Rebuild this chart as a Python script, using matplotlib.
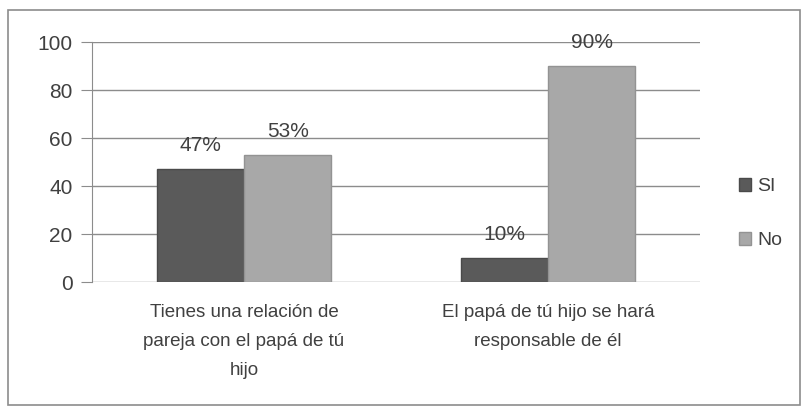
import numpy as np
import matplotlib.pyplot as plt
from matplotlib.patches import Rectangle

categories = ["Tienes una relación de\npareja con el papá de tú\nhijo",
              "El papá de tú hijo se hará\nresponsable de él"]
si_values = [47, 10]
no_values = [53, 90]
si_labels = ["47%", "10%"]
no_labels = ["53%", "90%"]
yticks = [0, 20, 40, 60, 80, 100]

plt.rcParams['font.family'] = ['Liberation Sans', 'DejaVu Sans']
text_color = '#404040'

fig = plt.figure(figsize=(8.04, 4.08), dpi=100)
fig.patches.append(Rectangle((8 / 804, 3 / 408), 792 / 804, 395 / 408,
                             transform=fig.transFigure, fill=False,
                             edgecolor='#8c8c8c', lw=1.2))
ax = fig.add_axes([92 / 804, 1 - 282 / 408, 608 / 804, 240 / 408])

x = np.arange(len(categories))
w = 0.287
b1 = ax.bar(x - w / 2, si_values, w, color='#5a5a5a', edgecolor='#4a4a4a',
            lw=1, label='SI', zorder=3)
b2 = ax.bar(x + w / 2, no_values, w, color='#a8a8a8', edgecolor='#939393',
            lw=1, label='No', zorder=3)

for bars, labels in ((b1, si_labels), (b2, no_labels)):
    for bar, lab in zip(bars, labels):
        ax.annotate(lab, (bar.get_x() + bar.get_width() / 2, bar.get_height()),
                    xytext=(0, 10), textcoords='offset points',
                    ha='center', va='bottom', fontsize=15, color=text_color)

ax.set_xlim(-0.5, 1.5)
ax.set_ylim(0, 100)
ax.set_yticks(yticks)
ax.yaxis.grid(True, color='#8c8c8c', lw=1, zorder=0)
ax.set_xticks(x)
ax.set_xticklabels(categories, fontsize=13.5, color=text_color, linespacing=1.9)
ax.tick_params(axis='x', length=0, pad=16)
ax.tick_params(axis='y', length=8, color='#8c8c8c', labelsize=15,
               labelcolor=text_color, pad=6)
for side in ('top', 'right', 'bottom'):
    ax.spines[side].set_visible(False)
ax.spines['left'].set_color('#8c8c8c')

ax.legend(loc='center left', bbox_to_anchor=(1.035, 0.285), frameon=False,
          fontsize=14, labelcolor=text_color, handlelength=0.65,
          handleheight=0.65, handletextpad=0.3, labelspacing=1.9)

fig.savefig('out.png', dpi=100)
